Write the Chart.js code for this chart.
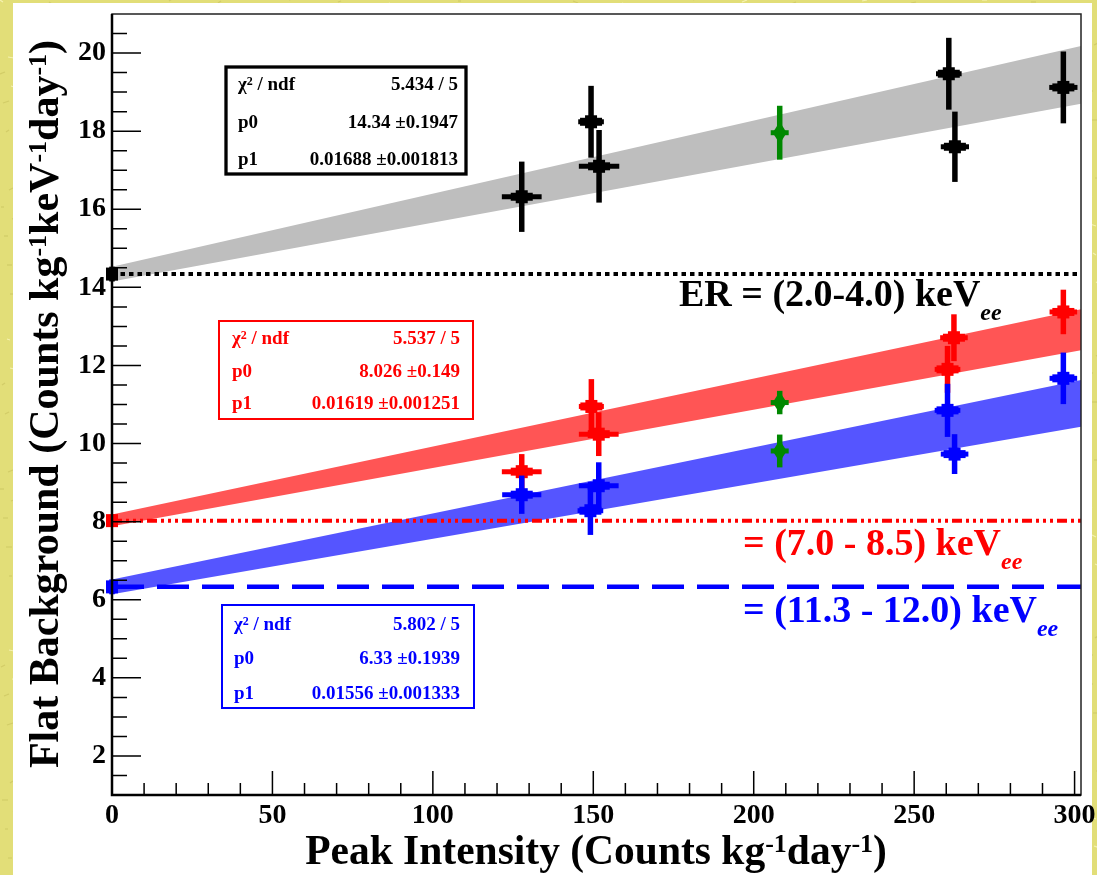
<!DOCTYPE html>
<html>
<head>
<meta charset="utf-8">
<script src="https://cdn.jsdelivr.net/npm/chart.js@4.4.1/dist/chart.umd.min.js"></script>
<style>
html, body { margin: 0; padding: 0; background: #e3df7c; }
canvas { display: block; }
</style>
</head>
<body>
<canvas id="bgChart" width="1097" height="875"></canvas>
<script>
var SERIF = '"Liberation Serif", "Times New Roman", serif';

// axis ticks
var xTickValues = [0, 50, 100, 150, 200, 250, 300];
var yTickValues = [2, 4, 6, 8, 10, 12, 14, 16, 18, 20];

// ER = (2.0-4.0) keVee  (black)
var erX  = [127.7, 149.3, 151.8, 260.8, 262.7, 296.5];
var erY  = [16.32, 18.24, 17.10, 19.47, 17.60, 19.12];
var erEx = [6.2, 4.0, 6.3, 4.0, 4.4, 4.4];
var erEy = [0.90, 0.92, 0.93, 0.92, 0.90, 0.92];

// (7.0 - 8.5) keVee  (red)
var lowX  = [127.7, 149.4, 151.7, 260.4, 262.4, 296.5];
var lowY  = [9.28, 10.95, 10.24, 11.90, 12.71, 13.37];
var lowEx = [6.2, 3.9, 6.2, 4.0, 4.3, 4.3];
var lowEy = [0.45, 0.70, 0.56, 0.60, 0.60, 0.57];

// (11.3 - 12.0) keVee  (blue)
var highX  = [127.7, 149.1, 151.7, 260.4, 262.6, 296.5];
var highY  = [8.69, 8.28, 8.92, 10.85, 9.73, 11.67];
var highEx = [6.1, 4.0, 6.2, 4.0, 4.3, 4.3];
var highEy = [0.49, 0.62, 0.60, 0.68, 0.51, 0.66];

// green points at 208 (one per energy range: ER, low, high)
var greenX  = [208.1, 208.1, 208.1];
var greenY  = [17.96, 11.05, 9.81];
var greenEx = [2.8, 2.8, 2.8];
var greenEy = [0.69, 0.30, 0.42];

// fitted intercepts drawn at x = 0 (ER, low, high)
var p0X  = [0, 0, 0];
var p0Y  = [14.34, 8.026, 6.33];
var p0Ey = [0.19, 0.15, 0.19];

// fit bands (edges at x = 0 and x = 302)
var bandX      = [0, 302];
var erBandHi   = [14.53, 20.18];
var erBandLo   = [14.15, 18.70];
var lowBandHi  = [8.18, 13.44];
var lowBandLo  = [7.88, 12.39];
var highBandHi = [6.52, 11.63];
var highBandLo = [6.14, 10.43];

// stat boxes
var statNames = ["/ ndf", "p0", "p1"];
var statER    = ["5.434 / 5", "14.34 \u00b10.1947", "0.01688 \u00b10.001813"];
var statLow   = ["5.537 / 5", "8.026 \u00b10.149", "0.01619 \u00b10.001251"];
var statHigh  = ["5.802 / 5", "6.33 \u00b10.1939", "0.01556 \u00b10.001333"];

var rangeLabels = ["ER = (2.0-4.0) keV", "= (7.0 - 8.5) keV", "= (11.3 - 12.0) keV"];

function pts(xs, ys) {
    return xs.map(function (x, i) { return {x: x, y: ys[i]}; });
}

// text with superscripts (kind 1) and italic subscripts (kind 2)
function rich(ctx, parts, x, y, size, align, color) {
    function fnt(p) {
        if (p[1] === 1) return 'bold ' + Math.round(size * 0.62) + 'px ' + SERIF;
        if (p[1] === 2) return 'italic bold ' + Math.round(size * 0.63) + 'px ' + SERIF;
        return 'bold ' + size + 'px ' + SERIF;
    }
    ctx.save();
    ctx.fillStyle = color;
    ctx.textAlign = 'left';
    ctx.textBaseline = 'alphabetic';
    var w = 0;
    parts.forEach(function (p) { ctx.font = fnt(p); w += ctx.measureText(p[0]).width; });
    var cx = x;
    if (align === 'center') cx = x - w / 2;
    if (align === 'right') cx = x - w;
    parts.forEach(function (p) {
        ctx.font = fnt(p);
        var dy = 0;
        if (p[1] === 1) dy = -size * 0.28;
        if (p[1] === 2) dy = size * 0.37;
        ctx.fillText(p[0], cx, y + dy);
        cx += ctx.measureText(p[0]).width;
    });
    ctx.restore();
}

function drawErrors(chart, xs, ys, exs, eys, color, green) {
    var ctx = chart.ctx, sx = chart.scales.x, sy = chart.scales.y;
    ctx.save();
    ctx.strokeStyle = color;
    ctx.fillStyle = color;
    for (var i = 0; i < xs.length; i++) {
        var px = sx.getPixelForValue(xs[i]);
        var py = sy.getPixelForValue(ys[i]);
        var left = sx.getPixelForValue(xs[i] - exs[i]);
        var right = sx.getPixelForValue(xs[i] + exs[i]);
        var top = sy.getPixelForValue(ys[i] + eys[i]);
        var bottom = sy.getPixelForValue(ys[i] - eys[i]);
        ctx.lineWidth = 5.5;
        ctx.beginPath(); ctx.moveTo(px, top); ctx.lineTo(px, bottom); ctx.stroke();
        if (right > left) {
            ctx.lineWidth = 5;
            ctx.beginPath(); ctx.moveTo(left, py); ctx.lineTo(right, py); ctx.stroke();
        }
        if (green) {
            ctx.beginPath();
            ctx.moveTo(px, py - 11); ctx.lineTo(px + 7, py); ctx.lineTo(px, py + 11); ctx.lineTo(px - 7, py);
            ctx.closePath(); ctx.fill();
        } else {
            var inner = Math.min(11, (right - left) / 2);
            if (inner > 0) {
                ctx.lineWidth = 8;
                ctx.beginPath(); ctx.moveTo(px - inner, py); ctx.lineTo(px + inner, py); ctx.stroke();
            }
            ctx.fillRect(px - 6, py - 6.5, 12, 13);
        }
    }
    ctx.restore();
}

function statBox(ctx, rect, values, color, lw, rows, textL, textR) {
    ctx.save();
    ctx.fillStyle = '#ffffff';
    ctx.fillRect(rect[0], rect[1], rect[2] - rect[0], rect[3] - rect[1]);
    ctx.strokeStyle = color;
    ctx.lineWidth = lw;
    ctx.strokeRect(rect[0], rect[1], rect[2] - rect[0], rect[3] - rect[1]);
    ctx.restore();
    rich(ctx, [["\u03c7", 0], ["2", 1], [" " + statNames[0], 0]], textL, rows[0], 19, 'left', color);
    rich(ctx, [[statNames[1], 0]], textL, rows[1], 19, 'left', color);
    rich(ctx, [[statNames[2], 0]], textL, rows[2], 19, 'left', color);
    for (var i = 0; i < 3; i++) {
        rich(ctx, [[values[i], 0]], textR, rows[i], 19, 'right', color);
    }
}

// yellow paper texture around the white panel
function paper(ctx, w, h) {
    ctx.fillStyle = '#e2de78';
    ctx.fillRect(0, 0, w, h);
    ctx.lineWidth = 1.2;
    for (var k = 0; k < 2600; k++) {
        var x = (k * 397) % w;
        var y = (k * 211 + ((k * 13) % 29)) % h;
        ctx.strokeStyle = (k % 3 === 0) ? 'rgba(250,246,190,0.8)' : 'rgba(196,190,90,0.55)';
        ctx.beginPath();
        ctx.moveTo(x, y);
        ctx.lineTo(x + 3 + (k % 4), y + 2 - (k % 5));
        ctx.stroke();
    }
}

var rootPlugin = {
    id: 'rootStyle',
    beforeDraw: function (chart) {
        var ctx = chart.ctx;
        ctx.save();
        paper(ctx, chart.width, chart.height);
        ctx.fillStyle = '#ffffff';
        ctx.fillRect(13, 3, 1079, chart.height - 3);
        ctx.restore();
    },
    afterDatasetsDraw: function (chart) {
        drawErrors(chart, erX, erY, erEx, erEy, '#000000', false);
        drawErrors(chart, lowX, lowY, lowEx, lowEy, '#ff0000', false);
        drawErrors(chart, highX, highY, highEx, highEy, '#0000ff', false);
        drawErrors(chart, greenX, greenY, greenEx, greenEy, '#008800', true);
        var p0Colors = ['#000000', '#ff0000', '#0000ff'];
        for (var i = 0; i < 3; i++) {
            drawErrors(chart, [p0X[i]], [p0Y[i]], [0], [p0Ey[i]], p0Colors[i], false);
        }
    },
    afterDraw: function (chart) {
        var ctx = chart.ctx, a = chart.chartArea, sx = chart.scales.x, sy = chart.scales.y;
        ctx.save();
        // frame
        ctx.strokeStyle = '#222';
        ctx.lineWidth = 1.5;
        ctx.strokeRect(a.left, a.top, a.right - a.left, a.bottom - a.top);
        ctx.strokeStyle = '#000';
        ctx.lineWidth = 2.5;
        ctx.beginPath();
        ctx.moveTo(a.left, a.top); ctx.lineTo(a.left, a.bottom); ctx.lineTo(a.right, a.bottom);
        ctx.stroke();
        // ticks inside the frame
        ctx.lineWidth = 1.5;
        ctx.beginPath();
        for (var v = 10; v <= 300; v += 10) {
            var px = sx.getPixelForValue(v);
            var len = (v % 50 === 0) ? 24 : 12;
            ctx.moveTo(px, a.bottom); ctx.lineTo(px, a.bottom - len);
        }
        for (var w = 1.5; w <= 20.5; w += 0.5) {
            var py = sy.getPixelForValue(w);
            var ln = (w % 2 === 0) ? 29 : 15;
            ctx.moveTo(a.left, py); ctx.lineTo(a.left + ln, py);
        }
        ctx.stroke();
        ctx.restore();

        // stat boxes
        statBox(ctx, [226, 67, 466, 174], statER, '#000000', 3.3, [90, 128, 165], 238, 458);
        statBox(ctx, [219, 321, 473, 419], statLow, '#ff0000', 2, [344, 377, 409], 232, 460);
        statBox(ctx, [222, 605, 474, 708], statHigh, '#0000ff', 2, [630, 664, 699], 234, 460);

        // range labels
        rich(ctx, [[rangeLabels[0], 0], ["ee", 2]], 679, 306, 38, 'left', '#000000');
        rich(ctx, [[rangeLabels[1], 0], ["ee", 2]], 743, 555, 38, 'left', '#ff0000');
        rich(ctx, [[rangeLabels[2], 0], ["ee", 2]], 743, 622, 38, 'left', '#0000ff');

        // axis titles
        rich(ctx, [["Peak Intensity (Counts kg", 0], ["-1", 1], ["day", 0], ["-1", 1], [")", 0]],
            596, 864, 41.5, 'center', '#000000');
        ctx.save();
        ctx.translate(58, 404);
        ctx.rotate(-Math.PI / 2);
        rich(ctx, [["Flat Background (Counts kg", 0], ["-1", 1], ["keV", 0], ["-1", 1], ["day", 0], ["-1", 1], [")", 0]],
            0, 0, 42, 'center', '#000000');
        ctx.restore();
    }
};

function bandSet(ys, color, fill) {
    return {
        type: 'line',
        data: pts(bandX, ys),
        showLine: true,
        borderColor: 'rgba(0,0,0,0)',
        borderWidth: 0,
        pointRadius: 0,
        backgroundColor: color,
        fill: fill,
        order: 3
    };
}

function refSet(y, color, dash, width) {
    return {
        type: 'line',
        data: pts(bandX, [y, y]),
        showLine: true,
        borderColor: color,
        borderWidth: width,
        borderDash: dash,
        pointRadius: 0,
        fill: false,
        order: 2
    };
}

function pointSet(xs, ys, color) {
    return {
        data: pts(xs, ys),
        pointStyle: 'rect',
        pointRadius: 5,
        pointBackgroundColor: color,
        pointBorderColor: color,
        clip: false,
        order: 1
    };
}

var canvas = document.getElementById('bgChart');
var bgChart = new Chart(canvas, {
    type: 'scatter',
    data: {
        datasets: [
            pointSet(erX, erY, '#000000'),
            pointSet(lowX, lowY, '#ff0000'),
            pointSet(highX, highY, '#0000ff'),
            pointSet(greenX, greenY, '#008800'),
            refSet(p0Y[0], '#000000', [4.5, 4], 4),
            refSet(p0Y[1], '#ff0000', [10, 4, 3, 4, 3, 4, 3, 4], 4),
            refSet(p0Y[2], '#0000ff', [32, 13], 4.5),
            bandSet(erBandHi, 'rgb(190,190,190)', false),
            bandSet(erBandLo, 'rgb(190,190,190)', '-1'),
            bandSet(lowBandHi, 'rgb(255,85,85)', false),
            bandSet(lowBandLo, 'rgb(255,85,85)', '-1'),
            bandSet(highBandHi, 'rgb(85,85,255)', false),
            bandSet(highBandLo, 'rgb(85,85,255)', '-1')
        ]
    },
    options: {
        responsive: false,
        animation: false,
        events: [],
        layout: {
            autoPadding: false,
            padding: {top: 14, right: 16, left: 0, bottom: 0}
        },
        plugins: {
            legend: {display: false},
            tooltip: {enabled: false}
        },
        scales: {
            x: {
                type: 'linear',
                min: 0,
                max: 302,
                grid: {display: false, drawTicks: false},
                border: {display: false},
                afterBuildTicks: function (s) {
                    s.ticks = xTickValues.map(function (v) { return {value: v}; });
                },
                afterFit: function (s) {
                    s.height = 80;
                    s.paddingLeft = 0;
                    s.paddingRight = 0;
                },
                ticks: {
                    autoSkip: false,
                    maxRotation: 0,
                    padding: 4,
                    color: '#000',
                    font: {family: SERIF, size: 28, weight: 'bold'}
                }
            },
            y: {
                type: 'linear',
                min: 1,
                max: 21,
                grid: {display: false, drawTicks: false},
                border: {display: false},
                afterBuildTicks: function (s) {
                    s.ticks = yTickValues.map(function (v) { return {value: v}; });
                },
                afterFit: function (s) {
                    s.width = 112;
                    s.paddingTop = 0;
                    s.paddingBottom = 0;
                },
                ticks: {
                    autoSkip: false,
                    padding: 6,
                    color: '#000',
                    font: {family: SERIF, size: 28, weight: 'bold'}
                }
            }
        }
    },
    plugins: [rootPlugin]
});
</script>
</body>
</html>
